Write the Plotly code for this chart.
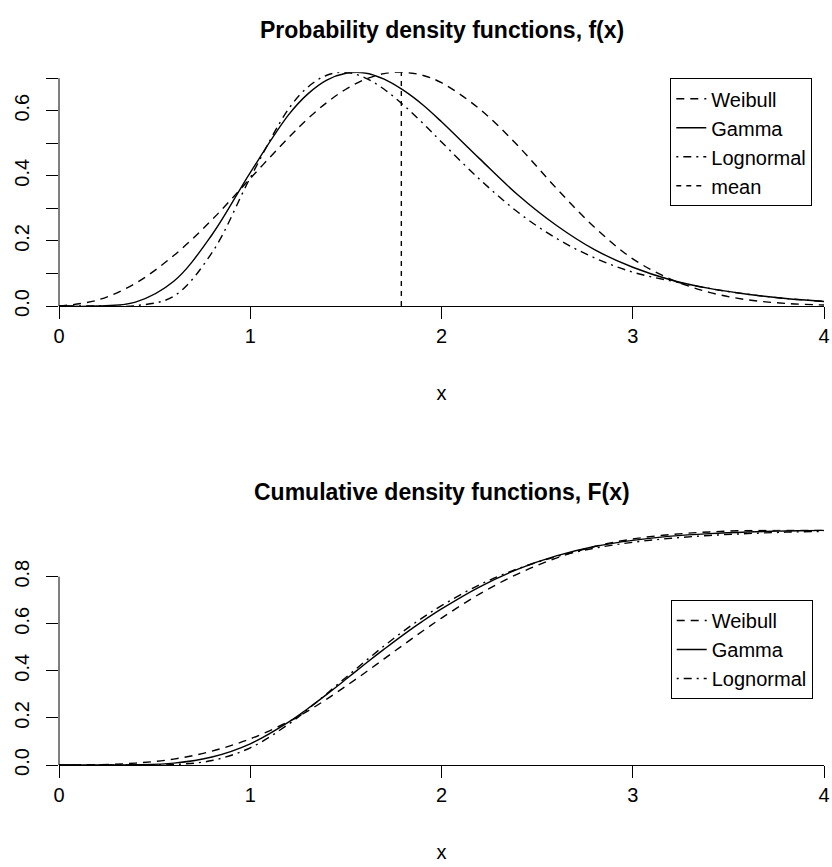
import plotly.graph_objects as go

# ---- data ----
x_grid = [0, 0.2, 0.4, 0.6, 0.8, 1.0, 1.2, 1.3, 1.4, 1.5, 1.6, 1.7, 1.8, 1.9,
          2.0, 2.2, 2.4, 2.6, 2.8, 3.0, 3.2, 3.4, 3.6, 3.8, 4.0]

pdf_weibull = [0, 0.018, 0.070, 0.155, 0.265, 0.392, 0.517, 0.575, 0.625, 0.666,
               0.696, 0.714, 0.718, 0.709, 0.686, 0.605, 0.492, 0.362, 0.242,
               0.145, 0.082, 0.042, 0.019, 0.008, 0.003]
pdf_gamma = [0, 0.000, 0.012, 0.076, 0.219, 0.410, 0.587, 0.651, 0.694, 0.715,
             0.716, 0.697, 0.663, 0.619, 0.566, 0.452, 0.341, 0.248, 0.173,
             0.119, 0.080, 0.054, 0.036, 0.023, 0.014]
pdf_lognormal = [0, 0.000, 0.001, 0.030, 0.164, 0.394, 0.605, 0.672, 0.709, 0.718,
                 0.701, 0.666, 0.618, 0.563, 0.504, 0.389, 0.288, 0.208, 0.148,
                 0.104, 0.077, 0.054, 0.036, 0.023, 0.014]

cdf_weibull = [0, 0.001, 0.008, 0.025, 0.059, 0.111, 0.184, 0.229, 0.280, 0.335,
               0.392, 0.451, 0.510, 0.568, 0.624, 0.727, 0.812, 0.879, 0.928,
               0.960, 0.979, 0.990, 0.996, 0.998, 0.9995]
cdf_gamma = [0, 0.000, 0.001, 0.008, 0.034, 0.090, 0.182, 0.239, 0.300, 0.364,
             0.429, 0.492, 0.553, 0.610, 0.663, 0.757, 0.832, 0.888, 0.928,
             0.954, 0.972, 0.983, 0.990, 0.994, 0.997]
cdf_lognormal = [0, 0.000, 0.000, 0.002, 0.019, 0.073, 0.173, 0.236, 0.303, 0.372,
                 0.440, 0.506, 0.568, 0.625, 0.677, 0.766, 0.834, 0.885, 0.921,
                 0.946, 0.963, 0.975, 0.983, 0.989, 0.992]

mean_x = [1.79, 1.79]
mean_y = [0, 0.718]

x_ticks = [0, 1, 2, 3, 4]
y1_ticks = [0, 0.1, 0.2, 0.3, 0.4, 0.5, 0.6, 0.7]
y1_text = ["0.0", "", "0.2", "", "0.4", "", "0.6", ""]
y2_ticks = [0, 0.2, 0.4, 0.6, 0.8]
y2_text = ["0.0", "0.2", "0.4", "0.6", "0.8"]

titles = ["Probability density functions, f(x)", "Cumulative density functions, F(x)"]

# ---- styles ----
FONT = "Liberation Sans, Arial, sans-serif"
LW = 1.4
DASH_W = "8px,6px"
DASH_L = "2px,5px,8px,5px"
DASH_M = "5px,5px"

fig = go.Figure()

def add_set(xs, yw, yg, yl, xa, ya, leg):
    fig.add_trace(go.Scatter(x=xs, y=yw, mode="lines", name="Weibull",
                             line=dict(color="black", width=LW, dash=DASH_W, shape="spline"),
                             xaxis=xa, yaxis=ya, legend=leg))
    fig.add_trace(go.Scatter(x=xs, y=yg, mode="lines", name="Gamma",
                             line=dict(color="black", width=LW, shape="spline"),
                             xaxis=xa, yaxis=ya, legend=leg))
    fig.add_trace(go.Scatter(x=xs, y=yl, mode="lines", name="Lognormal",
                             line=dict(color="black", width=LW, dash=DASH_L, shape="spline"),
                             xaxis=xa, yaxis=ya, legend=leg))

add_set(x_grid, pdf_weibull, pdf_gamma, pdf_lognormal, "x", "y", "legend")
fig.add_trace(go.Scatter(x=mean_x, y=mean_y, mode="lines", name="mean",
                         line=dict(color="black", width=LW, dash=DASH_M),
                         xaxis="x", yaxis="y", legend="legend"))
add_set(x_grid, cdf_weibull, cdf_gamma, cdf_lognormal, "x2", "y2", "legend2")

W, H = 832, 867
L, R = 59, 8
def fy(py):
    return (H - py) / H

tickfont = dict(family=FONT, size=20, color="black")
axis_common = dict(showgrid=False, zeroline=False,
                   ticks="outside", ticklen=12, tickwidth=1, tickcolor="black",
                   tickfont=tickfont)
xtitle = dict(text="x", font=dict(family=FONT, size=20, color="black"), standoff=39)

fig.update_layout(
    width=W, height=H,
    margin=dict(l=L, r=R, t=0, b=0, autoexpand=False),
    paper_bgcolor="white", plot_bgcolor="white",
    xaxis=dict(domain=[0, 1], range=[0, 4], tickvals=x_ticks, anchor="y",
               showline=True, linecolor="black", linewidth=1, title=xtitle,
               **axis_common),
    yaxis=dict(domain=[fy(306), fy(72.3)], range=[0, 0.718], tickvals=y1_ticks,
               ticktext=y1_text, tickangle=-90, anchor="x", showline=False,
               ticklabelstandoff=9, **axis_common),
    xaxis2=dict(domain=[0, 1], range=[0, 4], tickvals=x_ticks, anchor="y2",
                showline=True, linecolor="black", linewidth=1, title=xtitle,
                **axis_common),
    yaxis2=dict(domain=[fy(765), fy(529.7)], range=[0, 0.9995], tickvals=y2_ticks,
                ticktext=y2_text, tickangle=-90, anchor="x2", showline=False,
                ticklabelstandoff=9, **axis_common),
    legend=dict(x=(812.3 - L) / (W - L - R), y=fy(78.3), xanchor="right", yanchor="top",
                bordercolor="black", borderwidth=1, bgcolor="white",
                font=dict(family=FONT, size=20, color="black"), tracegroupgap=0),
    legend2=dict(x=(812.7 - L) / (W - L - R), y=fy(600), xanchor="right", yanchor="top",
                 bordercolor="black", borderwidth=1, bgcolor="white",
                 font=dict(family=FONT, size=20, color="black"), tracegroupgap=0),
    showlegend=True,
)

# y axis lines spanning only the tick range (R style)
fig.add_shape(type="line", xref="x domain", yref="y", x0=0, x1=0, y0=0, y1=0.7,
              line=dict(color="black", width=1))
fig.add_shape(type="line", xref="x2 domain", yref="y2", x0=0, x1=0, y0=0, y1=0.8,
              line=dict(color="black", width=1))

for t, py in zip(titles, [30, 492]):
    fig.add_annotation(text="<b>" + t + "</b>", xref="paper", yref="paper",
                       x=0.5, y=fy(py), xanchor="center", yanchor="middle",
                       showarrow=False,
                       font=dict(family=FONT, size=23, color="black"))

fig.write_html("out.html")
